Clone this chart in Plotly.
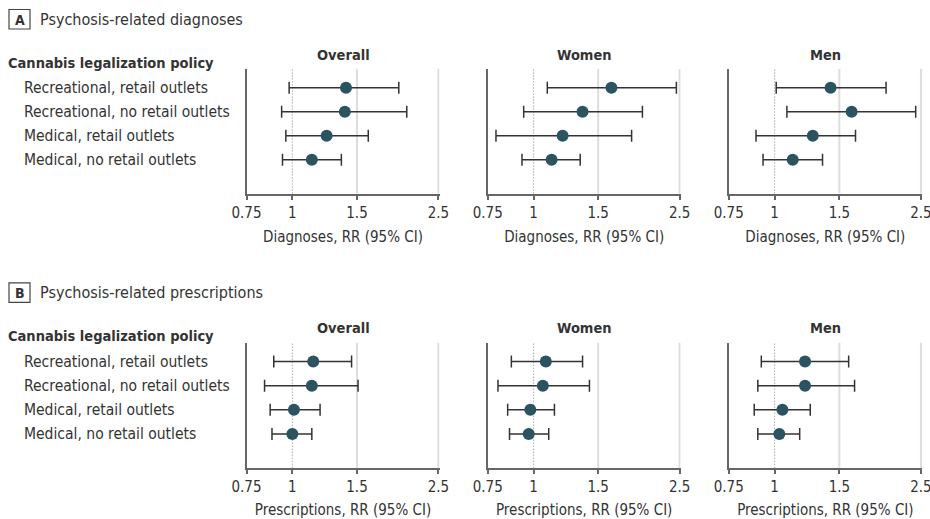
import plotly.graph_objects as go
import math

# ---------------- data ----------------
policies = ["Recreational, retail outlets", "Recreational, no retail outlets",
            "Medical, retail outlets", "Medical, no retail outlets"]
groups = ["Overall", "Women", "Men"]

diag_overall_rr = [1.40, 1.39, 1.24, 1.13]
diag_overall_lo = [0.98, 0.935, 0.96, 0.94]
diag_overall_hi = [1.95, 2.05, 1.61, 1.36]

diag_women_rr = [1.63, 1.36, 1.20, 1.12]
diag_women_lo = [1.09, 0.94, 0.79, 0.93]
diag_women_hi = [2.45, 1.98, 1.85, 1.34]

diag_men_rr = [1.42, 1.62, 1.27, 1.12]
diag_men_lo = [1.01, 1.08, 0.89, 0.93]
diag_men_hi = [2.01, 2.42, 1.66, 1.35]

presc_overall_rr = [1.14, 1.13, 1.01, 1.00]
presc_overall_lo = [0.89, 0.84, 0.87, 0.88]
presc_overall_hi = [1.45, 1.51, 1.19, 1.13]

presc_women_rr = [1.08, 1.06, 0.98, 0.97]
presc_women_lo = [0.87, 0.80, 0.85, 0.86]
presc_women_hi = [1.36, 1.42, 1.14, 1.10]

presc_men_rr = [1.21, 1.21, 1.05, 1.03]
presc_men_lo = [0.92, 0.90, 0.88, 0.90]
presc_men_hi = [1.59, 1.65, 1.25, 1.17]

tick_vals = [0.75, 1, 1.5, 2.5]
tick_text = ["0.75", "1", "1.5", "2.5"]
grid_vals = [1.5, 2.5]
ref_val = 1
x_min, x_max = 0.75, 2.5

panels = [
    {"letter": "A", "title": "Psychosis-related diagnoses", "xtitle": "Diagnoses, RR (95% CI)",
     "series": [(diag_overall_rr, diag_overall_lo, diag_overall_hi),
                (diag_women_rr, diag_women_lo, diag_women_hi),
                (diag_men_rr, diag_men_lo, diag_men_hi)]},
    {"letter": "B", "title": "Psychosis-related prescriptions", "xtitle": "Prescriptions, RR (95% CI)",
     "series": [(presc_overall_rr, presc_overall_lo, presc_overall_hi),
                (presc_women_rr, presc_women_lo, presc_women_hi),
                (presc_men_rr, presc_men_lo, presc_men_hi)]},
]

# ---------------- layout geometry (pixels) ----------------
W, H = 930, 519
FONT = "DejaVu Sans Condensed, Liberation Sans Narrow, sans-serif"
TXT = "#333333"
MARK = "#2b5362"
col_px = [(246.5, 439.5), (487.7, 680.7), (728.7, 922.0)]
panel_top = [69.0, 342.7]
panel_bot = [193.5, 467.7]
panel_off = [0.0, 273.3]

fig = go.Figure()
layout = dict(width=W, height=H, margin=dict(l=0, r=0, t=0, b=0, autoexpand=False),
              paper_bgcolor="white", plot_bgcolor="white", showlegend=False,
              font=dict(family=FONT, size=15, color=TXT))
shapes, annotations = [], []

ypos = list(range(len(policies)))
ax = 0
for p, panel in enumerate(panels):
    off = panel_off[p]
    for g, (rr, lo, hi) in enumerate(panel["series"]):
        ax += 1
        xname = "x" if ax == 1 else f"x{ax}"
        yname = "y" if ax == 1 else f"y{ax}"
        fig.add_trace(go.Scatter(
            x=rr, y=ypos, mode="markers", xaxis=xname, yaxis=yname,
            marker=dict(size=12, color=MARK),
            error_x=dict(type="data", symmetric=False,
                         array=[h - r for h, r in zip(hi, rr)],
                         arrayminus=[r - l for r, l in zip(rr, lo)],
                         color="#333333", thickness=1.5, width=6),
            hoverinfo="x+y"))
        x0, x1 = col_px[g]
        layout["xaxis" if ax == 1 else f"xaxis{ax}"] = dict(
            domain=[x0 / W, x1 / W], anchor=yname, type="log", automargin=False,
            range=[math.log10(x_min), math.log10(x_max) + 0.003],
            tickvals=tick_vals, ticktext=tick_text, showgrid=False, zeroline=False,
            ticklabeloverflow="allow",
            showline=True, linecolor="#666666", linewidth=1.5,
            ticks="outside", ticklen=5, tickwidth=1.5, tickcolor="#666666",
            ticklabelstandoff=0,
            tickfont=dict(size=15, color=TXT, family=FONT),
            title=dict(text=panel["xtitle"], font=dict(size=15, color=TXT, family=FONT), standoff=10))
        layout["yaxis" if ax == 1 else f"yaxis{ax}"] = dict(
            domain=[(H - panel_bot[p]) / H, (H - panel_top[p]) / H], anchor=xname,
            range=[4.4, -0.78], showgrid=False, zeroline=False, automargin=False,
            showticklabels=False, ticks="", showline=True,
            linecolor="#666666", linewidth=1.5)
        for gv in grid_vals:
            shapes.append(dict(type="line", xref=xname, yref=f"{yname} domain",
                               x0=gv, x1=gv, y0=0, y1=1, layer="below",
                               line=dict(color="#dddddd", width=2)))
        shapes.append(dict(type="line", xref=xname, yref=f"{yname} domain",
                           x0=ref_val, x1=ref_val, y0=0, y1=1, layer="below",
                           line=dict(color="#888888", width=1, dash="1px,2px")))
        annotations.append(dict(text="<b>" + groups[g] + "</b>", xref="paper", yref="paper",
                                x=(x0 + x1) / 2 / W, y=(H - (55 + off)) / H,
                                xanchor="center", yanchor="middle", showarrow=False,
                                font=dict(size=14.5, color=TXT, family=FONT)))
        if g == 0:
            for i, name in enumerate(policies):
                annotations.append(dict(text=name, xref="paper", yref=yname,
                                        x=22 / W, y=ypos[i], xanchor="left", yanchor="middle",
                                        showarrow=False, font=dict(size=15.5, color=TXT, family=FONT)))
    # panel header
    shapes.append(dict(type="rect", xref="paper", yref="paper",
                       x0=9 / W, x1=30 / W, y0=(H - (9.5 + off)) / H, y1=(H - (29 + off)) / H,
                       line=dict(color="#444444", width=1.2), fillcolor="white"))
    annotations.append(dict(text="<b>" + panel["letter"] + "</b>", xref="paper", yref="paper",
                            x=19.5 / W, y=(H - (19.5 + off)) / H, xanchor="center", yanchor="middle",
                            showarrow=False, font=dict(size=14, color=TXT, family=FONT)))
    annotations.append(dict(text=panel["title"], xref="paper", yref="paper",
                            x=38 / W, y=(H - (19 + off)) / H, xanchor="left", yanchor="middle",
                            showarrow=False, font=dict(size=16, color=TXT, family=FONT)))
    annotations.append(dict(text="<b>Cannabis legalization policy</b>", xref="paper", yref="paper",
                            x=6 / W, y=(H - (63 + off)) / H, xanchor="left", yanchor="middle",
                            showarrow=False, font=dict(size=14.5, color=TXT, family=FONT)))

layout["shapes"] = shapes
layout["annotations"] = annotations
fig.update_layout(**layout)
fig.write_html("out.html", config={"displayModeBar": False},
               post_script="document.body.style.margin='0';document.body.style.overflow='hidden';")
